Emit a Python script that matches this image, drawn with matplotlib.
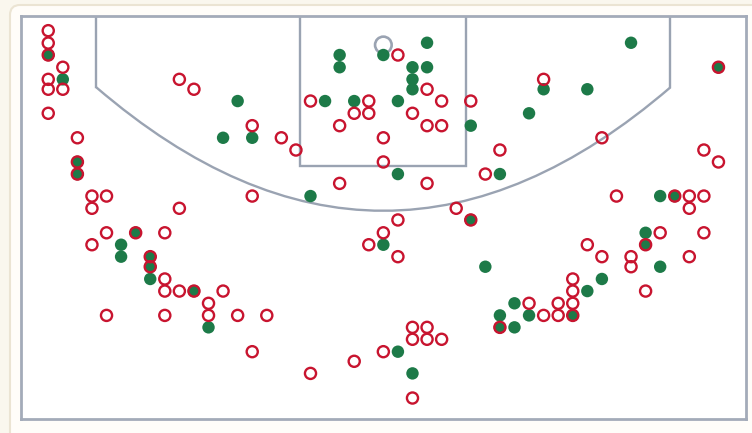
import matplotlib
matplotlib.use("Agg")
import matplotlib.pyplot as plt
from matplotlib.patches import FancyBboxPatch, Circle, PathPatch
from matplotlib.path import Path

# ---- data: shot locations (x: feet from basket centre, y: feet from basket, downward) ----
made_x = [-23, -22, -10, -11, -9, -21, -21, 3, -3, 0, -3, 2, 3, 2, 2, -4, -2, 1, 6, 1, 8,
          -5, 6, 17, 23, 11, 14, 10, 19, 20, -17, -18, -18, -16, -16, -16, -13, -12, 0, 7,
          1, 2, 8, 8, 18, 18, 19, 15, 14, 9, 9, 10, 13]
made_y = [0.57, 2.24, 3.73, 6.25, 6.25, 7.91, 8.74, -0.27, 0.57, 0.57, 1.41, 1.41, 1.41,
          2.24, 2.92, 3.73, 3.73, 3.73, 5.42, 8.74, 8.74, 10.25, 11.89, -0.27, 1.41, 2.92,
          2.92, 4.57, 10.25, 10.25, 12.77, 13.59, 14.41, 14.41, 15.10, 15.94, 16.77, 19.26,
          13.59, 15.10, 20.93, 22.42, 18.44, 19.26, 12.77, 13.59, 15.10, 15.94, 16.77,
          17.61, 19.26, 18.44, 18.44]

missed_x = [-23, -23, -23, -22, -23, -23, -22, -23, -14, -13, -9, -21, -21, -21, -20, -19,
            -20, -14, -9, 1, 3, -5, -1, 4, 6, -2, -1, 2, -3, 3, 4, -7, -6, 0, 0, 8, 7, -3,
            3, 5, 1, 6, 11, 15, 22, 23, 16, 20, 21, 22, 21, 23, -19, -17, -15, -20, -16,
            -16, -15, -15, -14, -13, -11, -12, -19, -15, -12, -10, -9, 0, -1, 1, -8, -5,
            -2, 0, 2, 3, 2, 3, 4, 2, 8, 19, 22, 18, 14, 15, 17, 17, 21, 18, 13, 13, 13,
            12, 10, 11, 12, 13]
missed_y = [-1.10, -0.25, 0.57, 1.41, 2.24, 2.92, 2.92, 4.57, 2.24, 2.92, 5.42, 6.25, 7.91,
            8.74, 10.25, 10.25, 11.09, 11.09, 10.25, 0.57, 2.92, 3.73, 3.73, 3.73, 3.73,
            4.57, 4.57, 4.57, 5.42, 5.42, 5.42, 6.25, 7.09, 6.25, 7.91, 7.09, 8.74, 9.38,
            9.38, 11.09, 11.89, 11.89, 2.24, 6.25, 7.09, 7.91, 10.25, 10.25, 10.25, 10.25,
            11.09, 1.41, 12.77, 12.77, 12.77, 13.59, 14.41, 15.10, 15.94, 16.77, 16.77,
            16.77, 16.77, 17.61, 18.44, 18.44, 18.44, 18.44, 20.93, 12.77, 13.59, 14.41,
            18.44, 22.42, 21.59, 20.93, 19.26, 19.26, 20.08, 20.08, 20.08, 24.11, 19.26,
            12.77, 12.77, 13.59, 13.59, 14.41, 14.41, 15.10, 14.41, 16.77, 15.94, 16.77,
            17.61, 17.61, 17.61, 18.44, 18.44, 18.44]

# ---- styling ----
GREEN = "#1d7a48"
RED = "#c8142f"
LINE = "#9aa3b2"
BG = "#faf7ee"
CARD = "#fffdf9"

W, H = 752, 433
fig = plt.figure(figsize=(W / 100, H / 100), dpi=100, facecolor=BG)

card = FancyBboxPatch((10, -30), 800, H - 5 + 30,
                      boxstyle="round,pad=0,rounding_size=10",
                      transform=None, facecolor=CARD, edgecolor="#ebe4d3",
                      linewidth=1.5, zorder=0)
fig.add_artist(card)

ax = fig.add_axes([21 / W, (H - 419.3) / H, 724.7 / W, 403.3 / H])
ax.set_facecolor("white")
xl = 24.87
ax.set_xlim(-xl, xl)
y_top, y_bot = -2.107, 25.57
ax.set_ylim(y_bot, y_top)
ax.set_xticks([])
ax.set_yticks([])
for s in ax.spines.values():
    s.set_color("#a3abb9")
    s.set_linewidth(2.0)

# court lines
lw = 1.7
paint_hw, paint_bottom = 5.7, 8.19
ax.plot([-paint_hw, -paint_hw, paint_hw, paint_hw],
        [y_top, paint_bottom, paint_bottom, y_top], color=LINE, lw=lw, zorder=1,
        solid_joinstyle="miter")
corner_x, corner_y = 19.7, 2.79
arc_vertex = 11.26
ax.plot([-corner_x, -corner_x], [y_top, corner_y], color=LINE, lw=lw, zorder=1)
ax.plot([corner_x, corner_x], [y_top, corner_y], color=LINE, lw=lw, zorder=1)
ctrl_y = 2 * arc_vertex - corner_y
arc = Path([(-corner_x, corner_y), (0, ctrl_y), (corner_x, corner_y)],
           [Path.MOVETO, Path.CURVE3, Path.CURVE3])
ax.add_patch(PathPatch(arc, facecolor="none", edgecolor=LINE, lw=lw, zorder=1))
ax.add_patch(Circle((0, -0.12), 0.57, facecolor="none", edgecolor=LINE, lw=1.9, zorder=1))

# shots
ax.scatter(made_x, made_y, s=80, color=GREEN, edgecolors="none", zorder=3)
ax.scatter(missed_x, missed_y, s=64, facecolors="none", edgecolors=RED,
           linewidths=1.7, zorder=4)

fig.savefig("out.png", dpi=100, facecolor=BG)
